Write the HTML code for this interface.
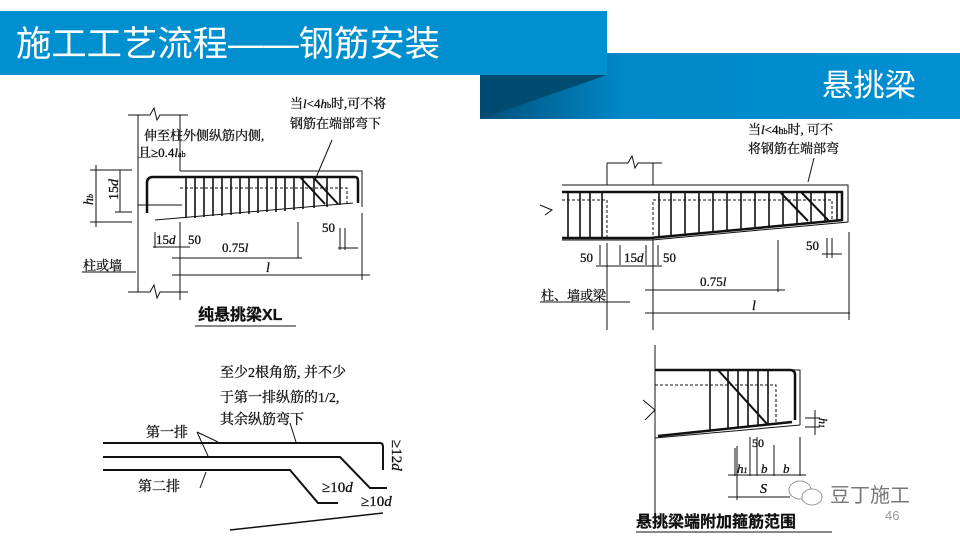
<!DOCTYPE html>
<html><head><meta charset="utf-8"><style>
html,body{margin:0;padding:0;background:#fff;width:960px;height:540px;overflow:hidden}
svg{display:block}
text{font-family:"Liberation Serif","Noto Serif CJK SC","Noto Sans CJK SC",serif;fill:#111;stroke:#111;stroke-width:0.3}
.s{font-family:"Liberation Sans","Noto Sans CJK SC",sans-serif}
.w{stroke:none}
</style></head><body>
<svg width="960" height="540" viewBox="0 0 960 540" xmlns="http://www.w3.org/2000/svg">
<defs>
<linearGradient id="g2" x1="0" x2="1" y1="0" y2="0">
<stop offset="0" stop-color="#00507a"/><stop offset="0.3" stop-color="#0088c8"/><stop offset="1" stop-color="#0090d2"/></linearGradient>
</defs>
<!-- header -->
<rect x="480" y="53" width="480" height="66" fill="url(#g2)"/>
<polygon points="480,119 607,75 480,75" fill="#004b70"/>
<rect x="0" y="11" width="607" height="64" fill="#0090d0"/>
<text x="16" y="56" class="s w" font-size="35" textLength="424" lengthAdjust="spacingAndGlyphs" style="fill:#fff">施工工艺流程——钢筋安装</text>
<text x="822" y="96" class="s w" font-size="31" textLength="94" lengthAdjust="spacingAndGlyphs" style="fill:#fff">悬挑梁</text>

<!-- top-left drawing -->
<g stroke="#111" fill="none" stroke-width="1">
<path d="M138,115 V292 M180,115 V171 M180,222 V292"/>
<path d="M128,115 H150 L154,108 L157,120 L160,115 H188 M128,292 H150 L154,285 L157,298 L160,292 H188"/>
<path d="M180,171 H362 V207 M155,220 L353,203"/>
<path d="M180,188 H347 V203" stroke-dasharray="3,2"/>
<path d="M147,213 V183 Q147,177 153,177 H355 Q358,177 358,181 V203" stroke-width="2.5"/>
<path d="M186,177V218 M195,177V218 M204,177V217 M213,177V216 M222,177V216 M231,177V215 M240,177V214 M249,177V214 M258,177V213 M267,177V212 M276,177V212 M285,177V211 M294,177V210 M303,177V209 M314,177V208 M327,177V207 M340,177V205" stroke-width="1.6"/>
<path d="M300,177 L325,204 M313,177 L338,204" stroke-width="2"/>
<path d="M90,170 H132 M90,222 H132 M96,165 V227 M120,170 V212 M115,170 H132 M115,212 H132"/>
<path d="M155,232 V248 M180,225 V300 M153,247 H190 M172,258 H302 M172,275 H370 M298,222 V258 M362,213 V280 M340,228 V250 M345,228 V250 M338,248 H358"/>
<path d="M138,205 H182 M332,140 L315,180"/>
<path d="M82,272 H136 M195,326 H296"/>
</g>
<text x="144" y="140" font-size="13">伸至柱外侧纵筋内侧,</text>
<text x="138" y="157" font-size="13">且≥0.4<tspan font-style="italic">l</tspan><tspan font-size="8">ab</tspan></text>
<text x="290" y="108" font-size="13">当<tspan font-style="italic">l</tspan>&lt;4<tspan font-style="italic">h</tspan><tspan font-size="8">b</tspan>时,可不将</text>
<text x="290" y="128" font-size="13">钢筋在端部弯下</text>
<text x="93" y="205" font-size="14" font-style="italic" transform="rotate(-90 93 205)">h<tspan font-size="8">b</tspan></text>
<text x="118" y="200" font-size="14" transform="rotate(-90 118 200)">15<tspan font-style="italic">d</tspan></text>
<text x="156" y="244" font-size="13">15<tspan font-style="italic">d</tspan></text>
<text x="188" y="244" font-size="13">50</text>
<text x="222" y="252" font-size="13">0.75<tspan font-style="italic">l</tspan></text>
<text x="266" y="272" font-size="14" font-style="italic">l</text>
<text x="322" y="232" font-size="13">50</text>
<text x="83" y="270" font-size="13">柱或墙</text>
<text x="198" y="320" class="s" font-size="16" font-weight="bold">纯悬挑梁XL</text>

<!-- top-right drawing -->
<g stroke="#111" fill="none" stroke-width="1">
<path d="M562,185 H848 V222 L652,240 H562"/>
<path d="M607,163 H628 L632,156 L635,168 L638,163 H662 M607,163 V185 M653,163 V185"/>
<path d="M562,200 H607 V240 M653,240 V200 H832 V220" stroke-dasharray="3,2"/>
<path d="M562,192 H842 V220 M562,238 H650 L843,220" stroke-width="2.5"/>
<path d="M568,192V238 M580,192V238 M590,192V238 M602,192V238 M659,192V237 M671,192V236 M685,192V234 M699,192V233 M713,192V232 M727,192V231 M741,192V229 M755,192V228 M769,192V227 M783,192V226 M797,192V224 M811,192V223 M825,192V222 M837,192V220" stroke-width="1.6"/>
<path d="M780,192 L808,221 M801,192 L829,221" stroke-width="2"/>
<path d="M607,243 V330 M653,240 V330 M600,245 V265 M620,245 V265 M646,245 V265 M658,245 V265 M596,266 H662 M645,290 H785 M778,240 V292 M645,313 H850 M849,232 V320 M827,238 V258 M832,238 V258 M822,254 H842 M814,158 L808,182"/>
<path d="M540,302 H630 M540,205 L552,210 L545,215"/>
</g>
<text x="748" y="134" font-size="13">当<tspan font-style="italic">l</tspan>&lt;4<tspan font-size="10">h</tspan><tspan font-size="8">b</tspan>时, 可不</text>
<text x="748" y="153" font-size="13">将钢筋在端部弯</text>
<text x="580" y="262" font-size="13">50</text>
<text x="624" y="262" font-size="13">15<tspan font-style="italic">d</tspan></text>
<text x="663" y="262" font-size="13">50</text>
<text x="700" y="286" font-size="13">0.75<tspan font-style="italic">l</tspan></text>
<text x="752" y="310" font-size="14" font-style="italic">l</text>
<text x="806" y="250" font-size="13">50</text>
<text x="541" y="300" font-size="13">柱、墙或梁</text>

<!-- bottom-left drawing -->
<g stroke="#111" fill="none" stroke-width="2">
<path d="M103,443 H380 Q383,443 383,447 V470"/>
<path d="M103,457 H340 L370,488 H387"/>
<path d="M103,470 H290 L318,503 H338"/>
<path d="M230,530 L383,513" stroke-width="1.5"/>
<path d="M197,432 L218,442 M197,432 L208,456 M200,488 L206,472 M290,423 L296,442" stroke-width="1"/>
</g>
<text x="220" y="377" font-size="14">至少2根角筋, 并不少</text>
<text x="220" y="402" font-size="14">于第一排纵筋的1/2,</text>
<text x="220" y="424" font-size="14">其余纵筋弯下</text>
<text x="146" y="437" font-size="14">第一排</text>
<text x="138" y="491" font-size="14">第二排</text>
<text x="322" y="492" font-size="15">≥10<tspan font-style="italic">d</tspan></text>
<text x="361" y="506" font-size="15">≥10<tspan font-style="italic">d</tspan></text>
<text x="392" y="440" font-size="15" transform="rotate(90 392 440)">≥12<tspan font-style="italic">d</tspan></text>

<!-- bottom-right drawing -->
<g stroke="#111" fill="none" stroke-width="1">
<path d="M655,345 V520 M655,370 H800 V425 M655,438 L800,425"/>
<path d="M655,385 H776 V425" stroke-dasharray="3,2"/>
<path d="M655,370 H790 Q795,370 795,375 V420 M658,436 L792,422" stroke-width="2.5"/>
<path d="M710,370V430 M728,370V428 M738,370V427 M748,370V426 M758,370V425 M768,370V424" stroke-width="1.6"/>
<path d="M718,370 L768,425" stroke-width="2"/>
<path d="M643,400 L655,410 L645,420"/>
<path d="M805,418 H820 M805,427 H820 M815,410 V435"/>
<path d="M735,448 V476 M750,437 V476 M757,437 V476 M774,445 V476 M800,437 V476 M728,475 H806 M737,446 V500 M728,497 H790"/>
<path d="M636,532 H832"/>
</g>
<text x="752" y="447" font-size="12">50</text>
<text x="737" y="473" font-size="13" font-style="italic">h<tspan font-size="8">1</tspan></text>
<text x="761" y="473" font-size="13" font-style="italic">b</text>
<text x="783" y="473" font-size="13" font-style="italic">b</text>
<text x="760" y="493" font-size="14" font-style="italic">S</text>
<text x="829" y="428" font-size="12" font-style="italic" transform="rotate(90 829 418)">h<tspan font-size="8">1</tspan></text>
<text x="636" y="527" class="s" font-size="16" font-weight="bold">悬挑梁端附加箍筋范围</text>

<!-- watermark -->
<g stroke="#999" fill="#fff" stroke-width="1"><ellipse cx="800" cy="490" rx="11" ry="9"/><ellipse cx="812" cy="497" rx="10" ry="8"/></g>
<text x="830" y="502" class="s w" font-size="20" style="fill:#777">豆丁施工</text>
<text x="885" y="520" class="s w" font-size="13" style="fill:#999">46</text>
</svg>
</body></html>
